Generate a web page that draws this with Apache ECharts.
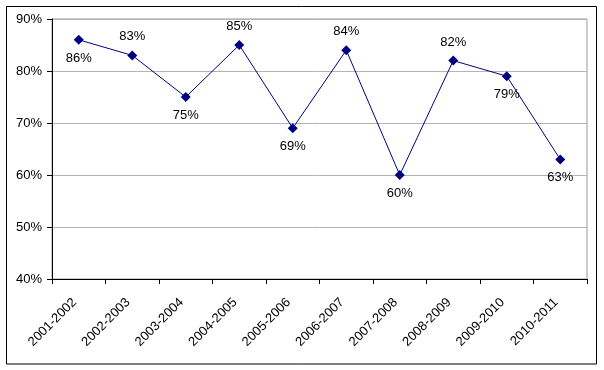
<!DOCTYPE html>
<html><head><meta charset="utf-8">
<script src="https://cdn.jsdelivr.net/npm/echarts@6/dist/echarts.min.js"></script>
<style>html,body{margin:0;padding:0;background:#fff}#c{width:604px;height:370px}</style>
</head><body><div id="c"></div>
<script>
const categories = ["2001-2002","2002-2003","2003-2004","2004-2005","2005-2006","2006-2007","2007-2008","2008-2009","2009-2010","2010-2011"];
const values = [86,83,75,85,69,84,60,82,79,63];
const labelPos = ["bottom","top","bottom","top","bottom","top","bottom","top","bottom","bottom"];
const yMin = 40, yMax = 90, yStep = 10;

const chart = echarts.init(document.getElementById('c'), null, {renderer:'canvas'});
const font = 'Arial, "Liberation Sans", sans-serif';
chart.setOption({
  animation:false,
  graphic:[{type:'rect',shape:{x:6.5,y:6.5,width:590,height:357.5},style:{fill:'none',stroke:'#000',lineWidth:1},z:-1}],
  grid:{left:52,right:17,top:19,bottom:91,show:true,borderColor:'#999',borderWidth:1},
  xAxis:{type:'category',data:categories,boundaryGap:true,
    axisLine:{lineStyle:{color:'#000',width:1}},
    axisTick:{show:true,length:5,inside:false,lineStyle:{color:'#000'}},
    axisLabel:{rotate:45,color:'#000',fontFamily:font,fontSize:13,margin:17,padding:[0,6,0,0],interval:0},
    splitLine:{show:false}},
  yAxis:{type:'value',min:yMin,max:yMax,interval:yStep,
    axisLine:{show:true,lineStyle:{color:'#000',width:1}},
    axisTick:{show:true,length:5,lineStyle:{color:'#000'}},
    axisLabel:{formatter:'{value}%',color:'#000',fontFamily:font,fontSize:13,margin:10},
    splitLine:{show:true,lineStyle:{color:'#b4b4b4',width:1}}},
  series:[{type:'line',data:values.map((v,i)=>({value:v,label:{position:labelPos[i]}})),
    symbol:'diamond',symbolSize:10,
    lineStyle:{color:'#000080',width:1},
    itemStyle:{color:'#000080'},
    label:{show:true,formatter:'{c}%',color:'#000',fontFamily:font,fontSize:13,distance:7}}]
});
</script></body></html>
